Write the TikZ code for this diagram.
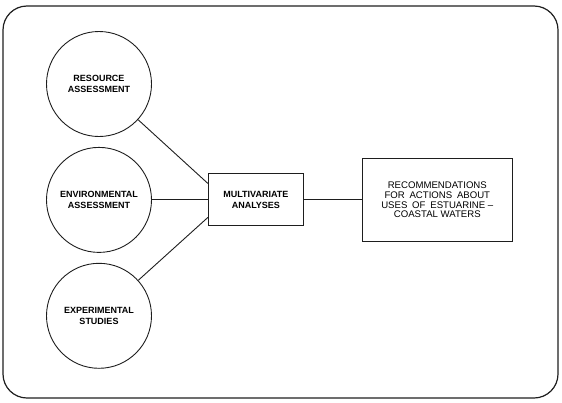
\documentclass[tikz,border=0pt]{standalone}
\usepackage{fontspec}
\setmainfont{Liberation Sans}
\usepackage{tikz}
\usetikzlibrary{positioning, calc}
\definecolor{mydark}{RGB}{30,30,30}
\tikzset{
  source/.style={circle, draw=mydark, line width=0.9pt, minimum size=105pt,
    inner sep=0pt, align=center, font=\bfseries\fontsize{9}{10.5}\selectfont},
  box/.style={rectangle, draw=mydark, line width=0.9pt, align=center,
    font=\bfseries\fontsize{9}{10.5}\selectfont},
  line/.style={line width=0.9pt, color=mydark}
}
\begin{document}
\begin{tikzpicture}[x=1pt, y=-1pt, node distance=10pt and 55pt]
  \useasboundingbox (0,0) rectangle (562,402);
  \draw[line, line width=1.2pt, rounded corners=24pt] (3,6) rectangle (558,398);

  % Assessment circles
  \node[source] (res) at (99,84) {RESOURCE\\ASSESSMENT};
  \node[source, below=10pt of res] (env) {ENVIRONMENTAL\\ASSESSMENT};
  \node[source, below=10pt of env] (exper) {EXPERIMENTAL\\STUDIES};

  % Analyses and outcome
  \node[box, right=56pt of env, minimum width=95pt, minimum height=52pt] (mv) {MULTIVARIATE\\ANALYSES};
  \node[box, right=58pt of mv, minimum width=150pt, minimum height=83pt,
    font=\mdseries\fontsize{9.6}{9.6}\selectfont] (rec)
    {RECOMMENDATIONS\\FOR\enspace ACTIONS\enspace ABOUT\\USES\enspace OF\enspace ESTUARINE --\\COASTAL WATERS};

  \coordinate (mvtop) at ($(mv.north west)!0.19!(mv.south west)$);
  \coordinate (mvbot) at ($(mv.north west)!0.83!(mv.south west)$);

  % Connections
  \draw[line] (res) -- (mvtop);
  \draw[line] (env) -- (mv);
  \draw[line] (exper) -- (mvbot);
  \draw[line] (mv) -- (rec);
\end{tikzpicture}
\end{document}
